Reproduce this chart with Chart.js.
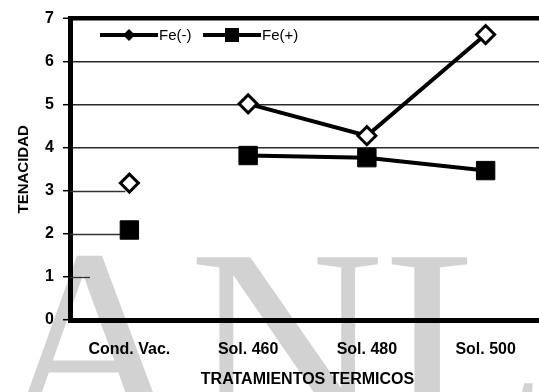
<!DOCTYPE html>
<html>
<head>
<meta charset="utf-8">
<script src="https://cdn.jsdelivr.net/npm/chart.js@4"></script>
<style>
  html, body { margin: 0; padding: 0; background: #fff; overflow: hidden; }
  #wrap { width: 539px; height: 392px; overflow: hidden; position: relative; }
  canvas { display: block; position: absolute; left: 0; top: 0; }
</style>
</head>
<body>
<div id="wrap"><canvas id="c" width="560" height="392"></canvas></div>
<script>
// Treatment categories and toughness values
const categories = ['Cond. Vac.', 'Sol. 460', 'Sol. 480', 'Sol. 500'];
const feMinus = [3.18, 5.02, 4.28, 6.63];
const fePlus = [2.09, 3.82, 3.77, 3.47];
const seriesNames = ['Fe(-)', 'Fe(+)'];
const yTicks = [0, 1, 2, 3, 4, 5, 6, 7];
const watermarkText = 'UANL';

const SANS = '"Liberation Sans", Arial, sans-serif';

// white background and grey watermark behind everything
const backdrop = {
  id: 'backdrop',
  beforeDraw(chart) {
    const ctx = chart.ctx;
    ctx.save();
    ctx.fillStyle = '#fff';
    ctx.fillRect(0, 0, chart.width, chart.height);
    ctx.font = '270px "Liberation Serif", "Times New Roman", serif';
    ctx.fillStyle = '#d2d2d2';
    ctx.textBaseline = 'alphabetic';
    const wU = ctx.measureText('U').width;
    ctx.fillText(watermarkText, -6 - wU, 434);
    ctx.restore();
  }
};

// short leftover grid strokes at the low values
const lowGrid = {
  id: 'lowGrid',
  beforeDatasetsDraw(chart) {
    const { ctx, chartArea, scales } = chart;
    const xFirst = scales.x.getPixelForValue(0);
    const segs = [[3, xFirst - 4], [2, xFirst - 6], [1, chartArea.left + 20]];
    ctx.save();
    ctx.strokeStyle = '#333';
    ctx.lineWidth = 1.3;
    segs.forEach(([v, xe]) => {
      const y = Math.round(scales.y.getPixelForValue(v)) + 0.5;
      ctx.beginPath();
      ctx.moveTo(chartArea.left, y);
      ctx.lineTo(xe, y);
      ctx.stroke();
    });
    ctx.restore();
  }
};

// legend drawn inside the plot, top-left
const innerLegend = {
  id: 'innerLegend',
  afterDraw(chart) {
    const ctx = chart.ctx;
    const starts = [100, 203];
    const y = 35;
    ctx.save();
    chart.data.datasets.forEach((ds, i) => {
      const x0 = starts[i];
      const len = 58;
      ctx.strokeStyle = '#000';
      ctx.lineWidth = 4;
      ctx.beginPath();
      ctx.moveTo(x0, y);
      ctx.lineTo(x0 + len, y);
      ctx.stroke();
      const mx = x0 + len / 2;
      ctx.beginPath();
      if (ds.pointStyle === 'rectRot') {
        const r = 6;
        ctx.moveTo(mx, y - r); ctx.lineTo(mx + r, y); ctx.lineTo(mx, y + r); ctx.lineTo(mx - r, y); ctx.closePath();
        ctx.fillStyle = '#000';
        ctx.fill();
      } else {
        ctx.rect(mx - 7, y - 7, 14, 14);
        ctx.fillStyle = '#000';
        ctx.fill();
      }
      ctx.fillStyle = '#000';
      ctx.font = '15px ' + SANS;
      ctx.textBaseline = 'middle';
      ctx.textAlign = 'left';
      ctx.fillText(ds.label, x0 + len + 1, y + 1);
    });
    ctx.restore();
  }
};

// no line between the vacuum condition and the solution treatments
const skipFirst = {
  borderColor: ctx => ctx.p0DataIndex === 0 ? 'rgba(0,0,0,0)' : undefined
};

new Chart(document.getElementById('c'), {
  type: 'line',
  data: {
    labels: categories,
    datasets: [
      {
        label: seriesNames[0],
        data: feMinus,
        borderColor: '#000',
        borderWidth: 4,
        pointStyle: 'rectRot',
        pointRadius: 9,
        pointBorderWidth: 3,
        pointBackgroundColor: '#fff',
        pointBorderColor: '#000',
        tension: 0,
        segment: skipFirst
      },
      {
        label: seriesNames[1],
        data: fePlus,
        borderColor: '#000',
        borderWidth: 4,
        pointStyle: 'rect',
        pointRadius: 13,
        pointBorderWidth: 1,
        pointBackgroundColor: '#000',
        pointBorderColor: '#000',
        tension: 0,
        segment: skipFirst
      }
    ]
  },
  options: {
    responsive: false,
    animation: false,
    devicePixelRatio: 1,
    layout: { padding: { top: 17, right: 15, bottom: 0, left: 0 } },
    plugins: {
      legend: { display: false },
      tooltip: { enabled: false }
    },
    scales: {
      x: {
        offset: true,
        grid: { display: false, drawTicks: false },
        border: { color: '#000', width: 5 },
        ticks: {
          color: '#000',
          padding: 20,
          font: { family: SANS, size: 16, weight: 'bold' }
        },
        title: {
          display: true,
          text: 'TRATAMIENTOS TERMICOS',
          color: '#000',
          font: { family: SANS, size: 16, weight: 'bold' },
          padding: { top: 0, bottom: 3 }
        },
        afterFit(scale) { scale.height = 72; }
      },
      y: {
        min: 0,
        max: 7,
        afterBuildTicks(scale) { scale.ticks = yTicks.map(v => ({ value: v })); },
        border: { color: '#000', width: 5 },
        grid: {
          drawTicks: true,
          tickLength: 7,
          tickColor: '#000',
          tickWidth: 1.5,
          color: ctx => {
            const v = ctx.tick ? ctx.tick.value : null;
            if (v === 7) return '#000';
            if (v >= 4 && v <= 6) return '#2a2a2a';
            return 'rgba(0,0,0,0)';
          },
          lineWidth: ctx => (ctx.tick && ctx.tick.value === 7) ? 4.5 : 1.4
        },
        ticks: {
          color: '#000',
          padding: 9,
          font: { family: SANS, size: 16, weight: 'bold' }
        },
        title: {
          display: true,
          text: 'TENACIDAD',
          color: '#000',
          font: { family: SANS, size: 15, weight: 'bold' },
          padding: { top: 15, bottom: 0 }
        },
        afterFit(scale) { scale.width = 70; }
      }
    }
  },
  plugins: [backdrop, lowGrid, innerLegend]
});
</script>
</body>
</html>
